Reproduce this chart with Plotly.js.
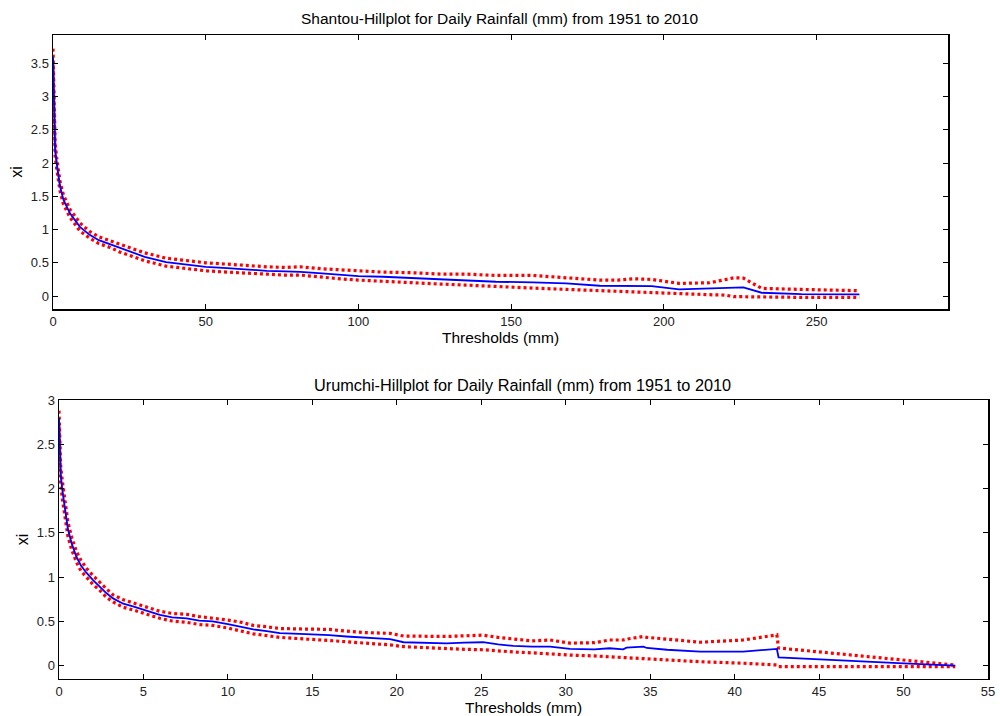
<!DOCTYPE html>
<html>
<head>
<meta charset="utf-8">
<script src="https://cdn.plot.ly/plotly-3.0.1.min.js"></script>
<style>html,body{margin:0;padding:0;background:#fff;}#chart{width:1000px;height:716px;}</style>
</head>
<body>
<div id="chart"></div>
<script>
// Shantou (top)
var shantouThreshold = [0, 0.2, 0.4, 0.7, 1.2, 2.3, 3.4, 5.6, 8.8, 12, 15, 18.7, 22, 26, 30, 37, 43, 50, 57, 63, 70, 76, 81, 88, 95, 100, 108, 118, 127, 135, 145, 157, 168, 179, 185, 190, 196, 205, 215, 220, 223, 226, 232, 245, 264];
var shantouXi = [3.6, 3.0, 2.5, 2.2, 2.0, 1.65, 1.45, 1.24, 1.04, 0.92, 0.84, 0.78, 0.72, 0.65, 0.59, 0.51, 0.48, 0.44, 0.42, 0.40, 0.38, 0.37, 0.365, 0.34, 0.32, 0.30, 0.29, 0.27, 0.25, 0.225, 0.215, 0.205, 0.19, 0.155, 0.155, 0.16, 0.15, 0.10, 0.115, 0.13, 0.13, 0.13, 0.05, 0.03, 0.025];
var shantouUpper = [3.72, 3.1, 2.6, 2.3, 2.08, 1.72, 1.52, 1.30, 1.10, 0.97, 0.89, 0.83, 0.78, 0.71, 0.65, 0.57, 0.54, 0.50, 0.48, 0.46, 0.44, 0.43, 0.44, 0.41, 0.39, 0.375, 0.36, 0.35, 0.33, 0.33, 0.31, 0.31, 0.28, 0.24, 0.24, 0.26, 0.25, 0.19, 0.20, 0.24, 0.275, 0.27, 0.115, 0.10, 0.08];
var shantouLower = [3.48, 2.9, 2.4, 2.1, 1.92, 1.58, 1.38, 1.18, 0.98, 0.87, 0.79, 0.73, 0.66, 0.59, 0.53, 0.45, 0.42, 0.38, 0.36, 0.345, 0.33, 0.315, 0.315, 0.28, 0.255, 0.24, 0.22, 0.195, 0.18, 0.165, 0.15, 0.12, 0.10, 0.08, 0.07, 0.065, 0.055, 0.03, 0.02, 0.015, -0.01, -0.01, -0.015, -0.02, -0.02];

// Urumchi (bottom)
var urumchiThreshold = [0, 0.05, 0.1, 0.2, 0.34, 0.53, 0.75, 1.03, 1.3, 1.62, 2.0, 2.41, 2.8, 3.2, 3.8, 4.38, 5.0, 5.97, 6.7, 7.55, 8.3, 9.1, 10, 10.8, 11.5, 12.3, 13.07, 14.26, 15, 16, 17, 18, 19.6, 20.4, 22.95, 24, 25.1, 26, 26.9, 28, 29.07, 30.25, 31.7, 32.6, 33.4, 33.6, 34.6, 34.8, 36, 37.96, 40.5, 42.5, 42.6, 50, 53.06];
var urumchiXi = [2.8, 2.4, 2.15, 1.98, 1.80, 1.54, 1.38, 1.23, 1.13, 1.05, 0.97, 0.895, 0.82, 0.76, 0.70, 0.67, 0.63, 0.575, 0.545, 0.535, 0.51, 0.50, 0.47, 0.44, 0.41, 0.39, 0.367, 0.36, 0.355, 0.345, 0.33, 0.32, 0.30, 0.265, 0.253, 0.26, 0.265, 0.24, 0.223, 0.215, 0.215, 0.19, 0.185, 0.197, 0.185, 0.204, 0.215, 0.20, 0.18, 0.159, 0.159, 0.189, 0.095, 0.027, 0.0];
var urumchiUpper = [2.88, 2.5, 2.25, 2.08, 1.88, 1.62, 1.45, 1.29, 1.19, 1.10, 1.02, 0.94, 0.87, 0.80, 0.745, 0.71, 0.675, 0.615, 0.59, 0.58, 0.555, 0.54, 0.515, 0.49, 0.455, 0.44, 0.42, 0.415, 0.41, 0.41, 0.39, 0.375, 0.365, 0.335, 0.33, 0.34, 0.345, 0.32, 0.30, 0.28, 0.29, 0.255, 0.26, 0.29, 0.29, 0.30, 0.33, 0.32, 0.30, 0.265, 0.29, 0.348, 0.20, 0.065, 0.007];
var urumchiLower = [2.7, 2.3, 2.05, 1.88, 1.72, 1.46, 1.31, 1.17, 1.07, 1.0, 0.92, 0.85, 0.775, 0.72, 0.66, 0.63, 0.59, 0.535, 0.505, 0.49, 0.465, 0.455, 0.425, 0.39, 0.36, 0.34, 0.32, 0.305, 0.30, 0.285, 0.27, 0.26, 0.235, 0.215, 0.19, 0.185, 0.18, 0.165, 0.155, 0.145, 0.13, 0.12, 0.11, 0.10, 0.09, 0.09, 0.08, 0.076, 0.06, 0.045, 0.028, 0.008, -0.011, -0.011, -0.011];

var titles = ["Shantou-Hillplot for Daily Rainfall (mm) from 1951 to 2010",
              "Urumchi-Hillplot for Daily Rainfall (mm) from 1951 to 2010"];
var xLabel = "Thresholds (mm)";
var yLabel = "xi";

var FONT = "Liberation Sans, Arial, sans-serif";
var blueLine = {color: "#0000ff", width: 1.8};
var redLine = {color: "#ff0000", width: 3.2, dash: "3px,3px"};

var traces = [
  {x: shantouThreshold, y: shantouUpper, xaxis: "x", yaxis: "y", mode: "lines", line: redLine},
  {x: shantouThreshold, y: shantouLower, xaxis: "x", yaxis: "y", mode: "lines", line: redLine},
  {x: shantouThreshold, y: shantouXi, xaxis: "x", yaxis: "y", mode: "lines", line: blueLine},
  {x: urumchiThreshold, y: urumchiUpper, xaxis: "x2", yaxis: "y2", mode: "lines", line: redLine},
  {x: urumchiThreshold, y: urumchiLower, xaxis: "x2", yaxis: "y2", mode: "lines", line: redLine},
  {x: urumchiThreshold, y: urumchiXi, xaxis: "x2", yaxis: "y2", mode: "lines", line: blueLine}
];

function ax(extra) {
  var base = {
    showline: true, linecolor: "#000", linewidth: 1.5, mirror: "ticks",
    ticks: "inside", ticklen: 5, tickwidth: 1, tickcolor: "#000",
    showgrid: false, zeroline: false, fixedrange: true,
    tickfont: {family: FONT, size: 13, color: "#222"}
  };
  for (var k in extra) base[k] = extra[k];
  return base;
}

var layout = {
  width: 1000, height: 716,
  margin: {l: 0, r: 0, t: 0, b: 0},
  paper_bgcolor: "#fff", plot_bgcolor: "#fff",
  showlegend: false,
  font: {family: FONT, color: "#000"},
  xaxis: ax({domain: [0.053, 0.948], range: [0, 293], dtick: 50, anchor: "y",
             title: {text: xLabel, font: {family: FONT, size: 15.5, color: "#000"}, standoff: 1}}),
  yaxis: ax({domain: [0.5684, 0.9511], range: [-0.195, 3.925], dtick: 0.5, anchor: "x",
             title: {text: yLabel, font: {family: FONT, size: 16, color: "#000"}, standoff: 4}}),
  xaxis2: ax({domain: [0.059, 0.988], range: [0, 55], dtick: 5, anchor: "y2",
             title: {text: xLabel, font: {family: FONT, size: 15.5, color: "#000"}, standoff: 1}}),
  yaxis2: ax({domain: [0.0517, 0.4413], range: [-0.15, 3.0], dtick: 0.5, anchor: "x2",
             title: {text: yLabel, font: {family: FONT, size: 16, color: "#000"}, standoff: 4}}),
  annotations: [
    {text: titles[0], xref: "paper", yref: "paper", x: 0.5005, y: 1 - 18/716, xanchor: "center", yanchor: "middle",
     showarrow: false, font: {family: FONT, size: 15.5, color: "#000"}},
    {text: titles[1], xref: "paper", yref: "paper", x: 0.5225, y: 1 - 385/716, xanchor: "center", yanchor: "middle",
     showarrow: false, font: {family: FONT, size: 16.3, color: "#000"}}
  ]
};

Plotly.newPlot("chart", traces, layout, {displayModeBar: false, staticPlot: true});
</script>
</body>
</html>
